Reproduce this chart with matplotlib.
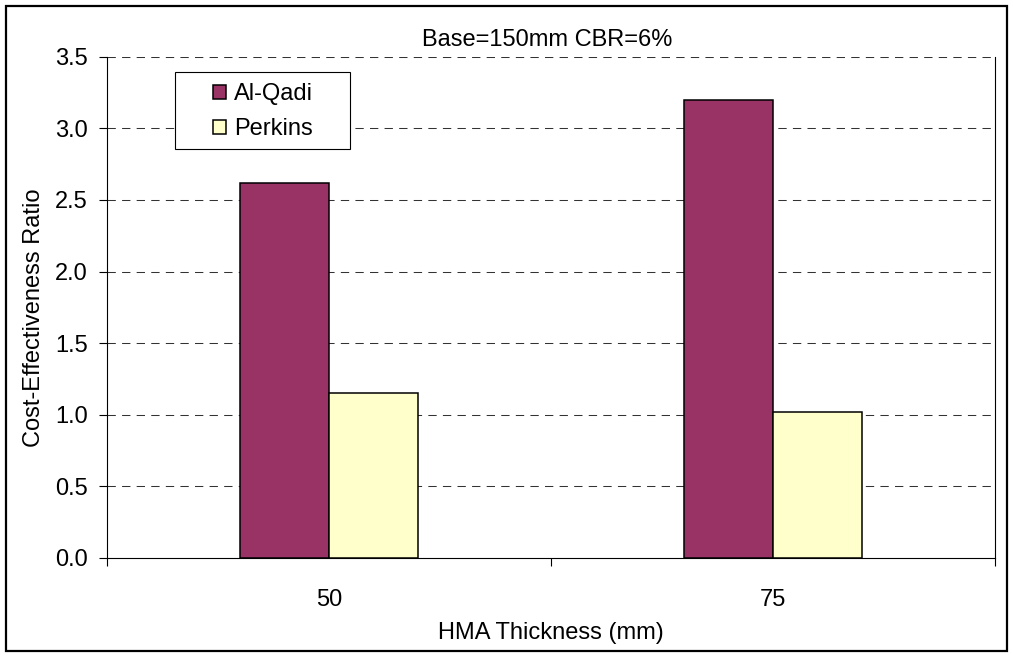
import matplotlib
matplotlib.use("Agg")
import matplotlib.pyplot as plt
import matplotlib.patches as patches
import numpy as np

plt.rcParams['font.family'] = ['Liberation Sans', 'DejaVu Sans']

categories = ["50", "75"]
al_qadi = [2.62, 3.20]
perkins = [1.155, 1.017]
series_names = ["Al-Qadi", "Perkins"]
yticks = [0.0, 0.5, 1.0, 1.5, 2.0, 2.5, 3.0, 3.5]

fs = 17
W, H = 1013, 657
fig = plt.figure(figsize=(W / 100, H / 100), dpi=100)
ax = fig.add_axes([107 / W, 1 - 558 / H, 888 / W, 501.3 / H])

x = np.arange(len(categories))
w = 0.2
ax.bar(x - w / 2, al_qadi, w, color="#993366", edgecolor="black", linewidth=1.1,
       label=series_names[0], zorder=3)
ax.bar(x + w / 2, perkins, w, color="#FFFFCC", edgecolor="black", linewidth=1.1,
       label=series_names[1], zorder=3)

ax.set_xlim(-0.5, len(categories) - 0.5)
ax.set_ylim(0, 3.5)
ax.set_yticks(yticks)
ax.set_yticklabels([f"{v:.1f}" for v in yticks], fontsize=fs)
for v in yticks[1:]:
    ax.axhline(v, color="#333333", lw=0.75, ls=(0, (8, 6)), zorder=1)

# category boundaries as major ticks, labels as minor ticks
ax.set_xticks(np.arange(-0.5, len(categories), 1.0))
ax.set_xticklabels([])
ax.set_xticks(x, minor=True)
ax.set_xticklabels(categories, minor=True, fontsize=fs)
ax.tick_params(axis="x", which="major", length=6, width=0.8, direction="out")
ax.tick_params(axis="x", which="minor", length=0, pad=22)
ax.tick_params(axis="y", length=6, width=0.8, direction="out", pad=8)

ax.spines["top"].set_visible(False)
for s in ["left", "bottom", "right"]:
    ax.spines[s].set_linewidth(0.8)
    ax.spines[s].set_color("black")

ax.set_xlabel("HMA Thickness (mm)", fontsize=fs, labelpad=8)
fig.text(34 / W, 1 - 318 / H, "Cost-Effectiveness Ratio", fontsize=fs,
         rotation=90, ha="center", va="center")
fig.text(547 / W, 1 - 40 / H, "Base=150mm CBR=6%", fontsize=fs,
         ha="center", va="center")

# legend box (white, covers gridlines)
ax.add_patch(patches.Rectangle((175 / W, 1 - 149 / H), 175 / W, 77 / H,
                               transform=fig.transFigure, facecolor="white",
                               edgecolor="black", linewidth=0.8, zorder=4,
                               clip_on=False))
leg = ax.legend(loc="upper left", bbox_to_anchor=((213 - 107) / 888, (558 - 83) / 501.3),
                fontsize=fs, frameon=False, borderpad=0,
                handlelength=0.55, handleheight=0.55, handletextpad=0.35,
                labelspacing=0.55, borderaxespad=0)
leg.set_zorder(5)

fig.patches.append(patches.Rectangle((6 / W, 6 / H), 1001 / W, 645 / H,
                                     transform=fig.transFigure, fill=False,
                                     edgecolor="black", linewidth=1.6))

fig.savefig("out.png", dpi=100)
